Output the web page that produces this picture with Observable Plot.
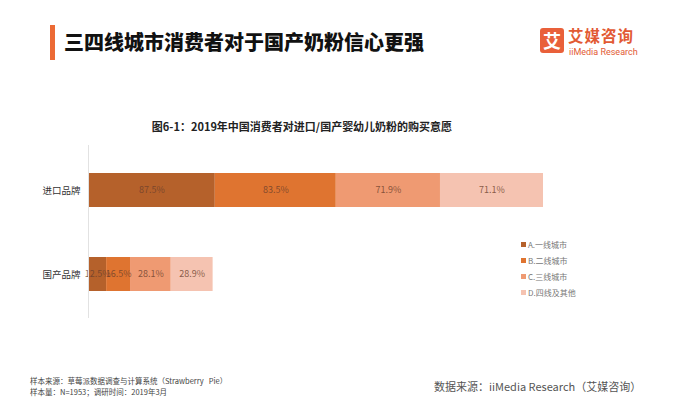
<!DOCTYPE html>
<html><head><meta charset="utf-8">
<script src="https://cdn.jsdelivr.net/npm/d3@7"></script>
<script src="https://cdn.jsdelivr.net/npm/@observablehq/plot@0.6"></script>
<style>
body{margin:0;background:#fff;font-family:"Noto Sans CJK SC","Noto Sans",sans-serif;}
#wrap{position:relative;width:680px;height:399px;overflow:hidden;background:#fff;}
.abs{position:absolute;white-space:nowrap;}
#bar{left:50px;top:25px;width:5px;height:35px;background:#ec6a35;}
#title{left:64px;top:29px;font-size:20px;font-weight:900;color:#111;line-height:26px;}
#logoSq{left:540px;top:28px;width:24px;height:25px;background:#e9603a;border-radius:3px;color:#fff;font-size:18px;font-weight:700;text-align:center;line-height:25px;}
#logoCn{left:568px;top:26px;font-size:15.5px;font-weight:700;color:#e25a34;line-height:18px;letter-spacing:1px;}
#logoEn{left:569px;top:48px;font-size:9px;color:#e25a34;line-height:9px;font-family:Roboto,"Noto Sans",sans-serif;}
#sub{left:0;width:604px;text-align:center;top:118px;font-size:11px;font-weight:700;color:#222;line-height:16px;}
#plot{left:0;top:130px;}
#legend{left:521px;top:236px;font-size:8px;color:#777;}
#legend div{height:16px;line-height:15px;display:flex;align-items:center;}
#legend span.sw{display:inline-block;width:5px;height:5px;margin-right:2px;}
.foot{left:30px;font-size:7.5px;color:#444;line-height:9px;}
#src{left:434px;top:378px;font-size:11px;color:#555;line-height:16px;}
</style></head>
<body><div id="wrap">
<div class="abs" id="bar"></div>
<div class="abs" id="title">三四线城市消费者对于国产奶粉信心更强</div>
<div class="abs" id="logoSq">艾</div>
<div class="abs" id="logoCn">艾媒咨询</div>
<div class="abs" id="logoEn">iiMedia Research</div>
<div class="abs" id="sub">图6-1：2019年中国消费者对进口/国产婴幼儿奶粉的购买意愿</div>
<div class="abs" id="plot"></div>
<div class="abs" id="legend"></div>
<div class="abs foot" style="top:376px;">样本来源：草莓派数据调查与计算系统（Strawberry&nbsp;&nbsp;&nbsp;Pie）</div>
<div class="abs foot" style="top:387px;">样本量：N=1953；调研时间：2019年3月</div>
<div class="abs" id="src">数据来源：iiMedia Research（艾媒咨询）</div>
</div>
<script>
const brands = ["进口品牌", "国产品牌"];
const tiers = ["A.一线城市", "B.二线城市", "C.三线城市", "D.四线及其他"];
const importValues = [87.5, 83.5, 71.9, 71.1];
const domesticValues = [12.5, 16.5, 28.1, 28.9];
const tierColors = ["#b5612b", "#df7430", "#ef9a72", "#f5c3b1"];

const rows = [];
tiers.forEach((t, i) => {
  rows.push({brand: brands[0], tier: t, value: importValues[i]});
  rows.push({brand: brands[1], tier: t, value: domesticValues[i]});
});

const chart = Plot.plot({
  width: 680,
  height: 200,
  marginLeft: 88,
  marginRight: 137,
  marginTop: 15,
  marginBottom: 12,
  style: {fontFamily: '"Noto Sans CJK SC", sans-serif', background: "transparent"},
  x: {axis: null, domain: [0, d3.sum(importValues)]},
  y: {domain: brands, paddingInner: 0.6, paddingOuter: 0.318, label: null},
  color: {domain: tiers, range: tierColors},
  marks: [
    Plot.barX(rows, {x: "value", y: "brand", fill: "tier"}),
    Plot.textX(rows, Plot.stackX({x: "value", y: "brand", z: "tier",
      text: d => d.value.toFixed(1) + "%", fill: "#6b3f2c", fillOpacity: 0.8, fontSize: 9})),
    Plot.ruleX([0], {stroke: "#e2e2e2"}),
    Plot.axisY({tickSize: 0, tickPadding: 8, fontSize: 9.5, color: "#333", label: null})
  ]
});
document.getElementById("plot").appendChild(chart);

const lg = document.getElementById("legend");
tiers.forEach((t, i) => {
  const row = document.createElement("div");
  row.innerHTML = `<span class="sw" style="background:${tierColors[i]}"></span>${t}`;
  lg.appendChild(row);
});
</script>
</body></html>
